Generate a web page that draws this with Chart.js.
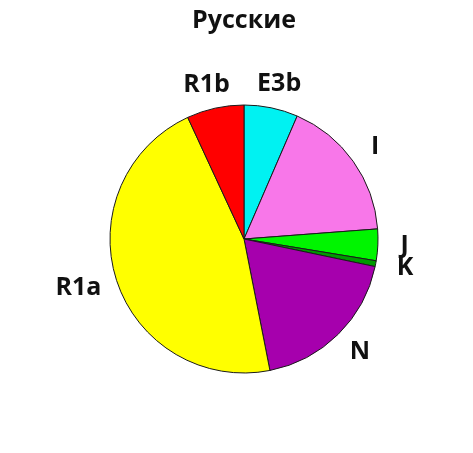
<!DOCTYPE html>
<html>
<head>
<meta charset="utf-8">
<title>Русские</title>
<script src="https://cdn.jsdelivr.net/npm/chart.js@4/dist/chart.umd.min.js"></script>
<style>
    html, body { margin: 0; padding: 0; background: #fff; }
    canvas { display: block; }
</style>
</head>
<body>
<canvas id="pieChart" width="473" height="453"></canvas>
<script>
// haplogroup shares, clockwise from 12 o'clock
const groups = ['E3b', 'I', 'J', 'K', 'N', 'R1a', 'R1b'];
const shares = [6.5, 17.3, 3.8, 0.7, 18.6, 46.2, 6.9];
const colors = ['#00f2f2', '#f877e9', '#00f500', '#009a00', '#a600ad', '#ffff00', '#ff0000'];

// labels sit outside the pie at each slice's mid angle
const outsideLabels = {
    id: 'outsideLabels',
    afterDatasetsDraw(chart) {
        const ctx = chart.ctx;
        const meta = chart.getDatasetMeta(0);
        ctx.save();
        ctx.font = 'bold 25px "Open Sans"';
        ctx.fillStyle = '#111';
        ctx.textAlign = 'center';
        ctx.textBaseline = 'middle';
        meta.data.forEach((arc, i) => {
            const mid = (arc.startAngle + arc.endAngle) / 2;
            const d = arc.outerRadius + 24;
            const w = ctx.measureText(groups[i]).width;
            const x = arc.x + Math.cos(mid) * d + Math.cos(mid) * w * 0.35;
            const y = arc.y + Math.sin(mid) * d;
            ctx.fillText(groups[i], x, y);
        });
        ctx.restore();
    }
};

new Chart(document.getElementById('pieChart'), {
    type: 'pie',
    data: {
        labels: groups,
        datasets: [{
            data: shares,
            backgroundColor: colors,
            borderColor: '#1a1a1a',
            borderWidth: 1,
            hoverOffset: 0
        }]
    },
    options: {
        responsive: false,
        animation: false,
        radius: 134,
        layout: { padding: { left: 40, right: 25, top: 6, bottom: 11 } },
        plugins: {
            legend: { display: false },
            tooltip: { enabled: false },
            title: {
                display: true,
                text: 'Русские',
                color: '#111',
                font: { family: '"Open Sans"', size: 25, weight: 'bold' },
                padding: { top: 0, bottom: 0 }
            }
        }
    },
    plugins: [outsideLabels]
});
</script>
</body>
</html>
